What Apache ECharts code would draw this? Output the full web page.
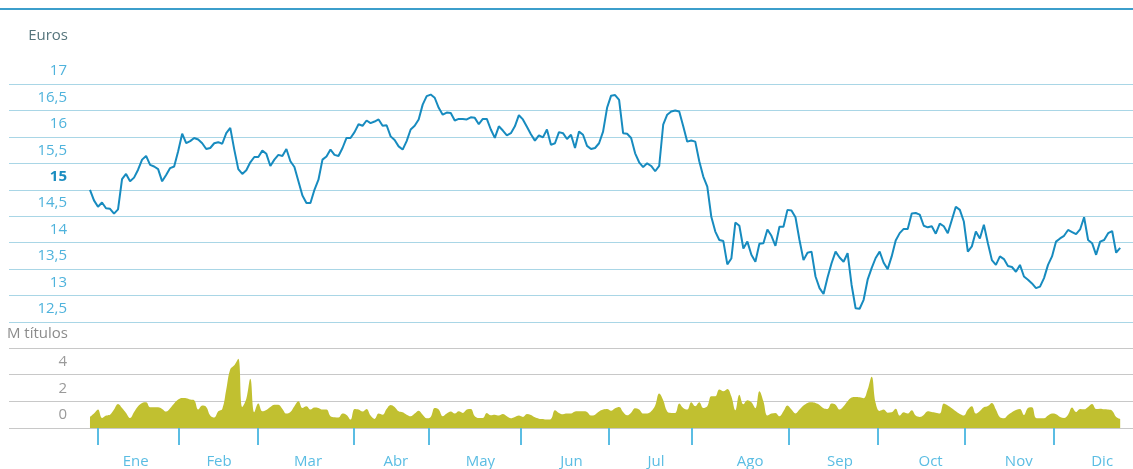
<!DOCTYPE html>
<html>
<head>
<meta charset="utf-8">
<script src="https://cdn.jsdelivr.net/npm/echarts@6/dist/echarts.min.js"></script>
<style>
  html, body { margin: 0; padding: 0; background: #fff; }
  #chart { width: 1133px; height: 469px; }
</style>
</head>
<body>
<div id="chart"></div>
<script>
// cotizacion diaria (euros), una entrada por sesion
const priceValues = [
  15.00, 14.80, 14.68, 14.76, 14.65, 14.64, 14.55, 14.63, 15.20, 15.30,
  15.16, 15.23, 15.38, 15.57, 15.64, 15.47, 15.44, 15.39, 15.16, 15.28,
  15.41, 15.44, 15.73, 16.06, 15.88, 15.92, 15.98, 15.95, 15.88, 15.77,
  15.79, 15.88, 15.90, 15.87, 16.07, 16.17, 15.76, 15.39, 15.30, 15.37,
  15.52, 15.62, 15.62, 15.74, 15.68, 15.45, 15.57, 15.66, 15.64, 15.77,
  15.54, 15.43, 15.16, 14.89, 14.75, 14.75, 15.00, 15.19, 15.57, 15.63,
  15.76, 15.66, 15.64, 15.79, 15.98, 15.98, 16.09, 16.24, 16.21, 16.31,
  16.26, 16.29, 16.33, 16.21, 16.22, 16.01, 15.94, 15.82, 15.76, 15.92,
  16.14, 16.21, 16.33, 16.61, 16.77, 16.80, 16.74, 16.55, 16.42, 16.46,
  16.45, 16.31, 16.34, 16.34, 16.33, 16.37, 16.36, 16.24, 16.34, 16.34,
  16.14, 15.98, 16.20, 16.12, 16.03, 16.07, 16.20, 16.41, 16.33, 16.19,
  16.05, 15.93, 16.03, 15.99, 16.14, 15.85, 15.88, 16.09, 16.07, 15.96,
  16.04, 15.79, 16.10, 16.04, 15.83, 15.77, 15.79, 15.88, 16.10, 16.55,
  16.78, 16.79, 16.70, 16.07, 16.06, 15.98, 15.69, 15.52, 15.43, 15.50,
  15.45, 15.35, 15.45, 16.23, 16.42, 16.48, 16.50, 16.48, 16.20, 15.91,
  15.93, 15.91, 15.54, 15.25, 15.06, 14.49, 14.21, 14.05, 14.03, 13.59,
  13.70, 14.38, 14.32, 13.89, 14.02, 13.77, 13.64, 13.98, 13.99, 14.25,
  14.13, 13.94, 14.30, 14.30, 14.62, 14.61, 14.48, 14.05, 13.67, 13.81,
  13.83, 13.36, 13.14, 13.03, 13.34, 13.61, 13.83, 13.72, 13.64, 13.80,
  13.20, 12.76, 12.75, 12.92, 13.30, 13.52, 13.71, 13.83, 13.62, 13.50,
  13.74, 14.04, 14.18, 14.26, 14.26, 14.55, 14.56, 14.53, 14.32, 14.29,
  14.31, 14.17, 14.36, 14.31, 14.18, 14.43, 14.68, 14.62, 14.40, 13.83,
  13.93, 14.21, 14.08, 14.34, 13.99, 13.67, 13.58, 13.74, 13.69, 13.56,
  13.54, 13.45, 13.58, 13.36, 13.30, 13.23, 13.14, 13.17, 13.33, 13.58,
  13.74, 14.02, 14.08, 14.13, 14.24, 14.20, 14.16, 14.25, 14.48, 14.05,
  13.99, 13.77, 14.02, 14.05, 14.18, 14.22, 13.81, 13.90
];

// volumen negociado (millones de titulos)
const volumeValues = [
  0.83, 1.08, 1.38, 0.75, 0.93, 1.00, 1.38, 1.80, 1.50, 1.13,
  0.75, 1.20, 1.63, 1.88, 1.93, 1.55, 1.55, 1.55, 1.43, 1.23,
  1.48, 1.83, 2.13, 2.25, 2.23, 2.13, 2.08, 1.38, 1.68, 1.58,
  0.93, 0.78, 1.25, 1.43, 2.88, 4.40, 4.70, 5.20, 1.58, 2.20,
  3.70, 1.18, 1.83, 1.25, 1.35, 1.58, 1.75, 1.75, 1.43, 1.08,
  1.20, 1.63, 2.00, 1.50, 1.63, 1.38, 1.53, 1.50, 1.38, 1.38,
  0.88, 0.80, 0.78, 1.08, 0.98, 0.63, 1.43, 1.38, 1.23, 1.43,
  0.93, 0.68, 1.08, 1.00, 1.43, 1.73, 1.58, 1.25, 1.18, 1.00,
  0.88, 1.08, 1.30, 1.00, 0.73, 0.83, 1.50, 1.38, 0.88, 1.08,
  1.23, 1.08, 1.25, 1.13, 1.38, 1.43, 0.88, 0.75, 0.75, 1.13,
  0.95, 1.00, 0.93, 1.05, 0.88, 0.73, 0.83, 0.93, 0.83, 1.05,
  0.98, 0.80, 0.70, 0.68, 0.63, 0.68, 1.33, 1.13, 1.03, 1.08,
  1.08, 1.23, 1.25, 1.25, 1.20, 0.93, 1.00, 1.23, 1.38, 1.43,
  1.30, 1.48, 1.58, 1.20, 0.95, 1.15, 1.48, 1.38, 1.08, 1.08,
  1.25, 1.68, 2.58, 2.08, 1.23, 1.13, 1.13, 1.83, 1.50, 1.38,
  1.93, 1.63, 1.93, 1.50, 1.63, 2.38, 2.38, 2.88, 2.75, 2.93,
  2.38, 1.33, 2.50, 1.78, 2.08, 1.93, 1.48, 2.75, 2.00, 0.93,
  1.08, 1.13, 0.88, 1.25, 1.68, 1.38, 1.08, 1.38, 1.68, 1.88,
  1.93, 1.88, 1.73, 1.48, 1.43, 1.83, 1.75, 1.38, 1.63, 2.00,
  2.28, 2.33, 2.30, 2.23, 2.88, 3.85, 1.88, 1.28, 1.38, 1.15,
  1.18, 1.45, 0.93, 1.18, 1.08, 1.33, 0.93, 0.83, 0.98, 1.25,
  1.20, 1.15, 1.08, 1.83, 1.68, 1.48, 1.25, 1.05, 0.93, 1.38,
  1.63, 1.08, 1.28, 1.55, 1.65, 1.88, 1.38, 0.80, 0.73, 0.98,
  1.18, 1.35, 1.43, 0.98, 1.50, 1.55, 0.75, 0.73, 0.73, 0.93,
  1.08, 1.03, 0.83, 0.75, 1.00, 1.53, 1.20, 1.43, 1.40, 1.58,
  1.80, 1.43, 1.45, 1.40, 1.38, 1.30, 0.83, 0.68
];

const monthNames = ['Ene', 'Feb', 'Mar', 'Abr', 'May', 'Jun', 'Jul', 'Ago', 'Sep', 'Oct', 'Nov', 'Dic'];
// sesion donde empieza cada mes y sesion donde va su etiqueta
const monthStarts = [1.9, 22.1, 41.9, 65.9, 84.4, 107.5, 129.5, 150.2, 174.4, 196.4, 218.3, 240.5];
const monthLabelPos = [11.4, 32.2, 54.4, 76.3, 97.4, 120.1, 141.2, 164.7, 187.1, 209.7, 231.7, 252.5];

const priceTicks = { min: 12.5, max: 17, step: 0.5 };
const volumeTicks = { min: 0, max: 6, step: 2 };

const FONT = "'Open Sans', 'Noto Sans', sans-serif";
const X_MIN = -20.2, X_MAX = 260.2;

const chart = echarts.init(document.getElementById('chart'), null, { renderer: 'canvas' });

const option = {
  animation: false,
  backgroundColor: '#fff',
  textStyle: { fontFamily: FONT },
  title: [
    {
      text: 'Euros', right: 1133 - 68, top: 28, padding: 0,
      textStyle: { fontFamily: FONT, fontSize: 15, fontWeight: 'normal', color: '#56757c' }
    },
    {
      text: 'M títulos', right: 1133 - 68, top: 326, padding: 0,
      textStyle: { fontFamily: FONT, fontSize: 15, fontWeight: 'normal', color: '#8c8c8c' }
    }
  ],
  graphic: [
    { type: 'rect', shape: { x: 0, y: 8, width: 1133, height: 2 }, style: { fill: '#3c9ecb' }, silent: true }
  ],
  grid: [
    { left: 9, right: 0, top: 84, height: 238 },
    { left: 9, right: 0, top: 348, height: 80 }
  ],
  xAxis: [
    {
      gridIndex: 0, type: 'value', min: X_MIN, max: X_MAX,
      axisLine: { show: false }, axisTick: { show: false },
      axisLabel: { show: false }, splitLine: { show: false }
    },
    {
      gridIndex: 1, type: 'value', min: X_MIN, max: X_MAX,
      offset: 24,
      axisLine: { show: false },
      splitLine: { show: false },
      axisTick: {
        show: true, length: 17, customValues: monthStarts,
        lineStyle: { color: '#5bbde3', width: 2 }
      },
      axisLabel: {
        show: true, customValues: monthLabelPos, margin: 2,
        fontFamily: FONT, fontSize: 15, color: '#5bbde3',
        formatter: v => {
          const k = monthLabelPos.indexOf(v);
          return k >= 0 ? monthNames[k] : '';
        }
      }
    }
  ],
  yAxis: [
    {
      gridIndex: 0, type: 'value',
      min: priceTicks.min, max: priceTicks.max, interval: priceTicks.step,
      axisLine: { show: false }, axisTick: { show: false },
      splitLine: { show: true, lineStyle: { color: '#a9d6e6', width: 1 } },
      axisLabel: {
        margin: -58, fontFamily: FONT, fontSize: 15, color: '#4fb3dc',
        verticalAlign: 'bottom', lineHeight: 26,
        formatter: v => v === 15 ? '{b|15}' : String(v).replace('.', ','),
        rich: {
          b: { fontFamily: FONT, fontSize: 15, fontWeight: 'bold', color: '#1b8dc0', lineHeight: 26 }
        }
      }
    },
    {
      gridIndex: 1, type: 'value',
      min: volumeTicks.min, max: volumeTicks.max, interval: volumeTicks.step,
      axisLine: { show: false }, axisTick: { show: false },
      splitLine: { show: true, lineStyle: { color: '#c8c8c8', width: 1 } },
      axisLabel: {
        margin: -58, fontFamily: FONT, fontSize: 15, color: '#9a9a9a',
        verticalAlign: 'bottom', lineHeight: 26, showMaxLabel: false
      }
    }
  ],
  series: [
    {
      type: 'line', name: 'Volumen', xAxisIndex: 1, yAxisIndex: 1,
      data: volumeValues.map((v, i) => [i, v]),
      smooth: 0.4, showSymbol: false,
      lineStyle: { width: 0 },
      areaStyle: { color: '#c1c030', opacity: 1 }
    },
    {
      type: 'line', name: 'Cotización', xAxisIndex: 0, yAxisIndex: 0,
      data: priceValues.map((v, i) => [i, v]),
      showSymbol: false,
      lineStyle: { color: '#178bbf', width: 2 }
    }
  ]
};

chart.setOption(option);
</script>
</body>
</html>
